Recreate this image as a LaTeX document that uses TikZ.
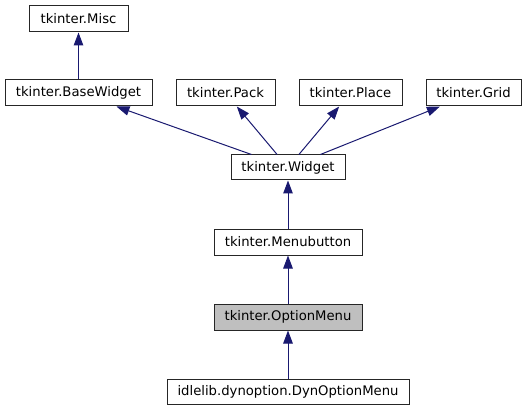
\documentclass[tikz,border=0pt]{standalone}
\usepackage{fontspec}
\setmainfont{DejaVu Sans}
\usetikzlibrary{arrows.meta}
\definecolor{edgeblue}{HTML}{191970}
\definecolor{fillgrey}{HTML}{BFBFBF}
\begin{document}
\begin{tikzpicture}[x=1pt,y=-1pt,
  cls/.style={draw=black!85,line width=1pt,fill=white,inner sep=0pt,minimum height=26pt,
    font=\fontsize{13.2}{15}\selectfont},
  edge/.style={draw=edgeblue,line width=1pt,-{Triangle[length=13pt,width=9.5pt]}}]
\useasboundingbox (0,0) rectangle (526,411);
\node[cls,minimum width=99pt]  (misc)   at (78.5,19)  {tkinter.Misc};
\node[cls,minimum width=147pt] (base)   at (78.5,93)  {tkinter.BaseWidget};
\node[cls,minimum width=99pt]  (pack)   at (225.5,93) {tkinter.Pack};
\node[cls,minimum width=103pt] (place)  at (350.5,93) {tkinter.Place};
\node[cls,minimum width=95pt]  (grid)   at (473.5,93) {tkinter.Grid};
\node[cls,minimum width=114pt,minimum height=25pt] (widget) at (288,167.5) {tkinter.Widget};
\node[cls,minimum width=148pt] (menu)   at (288,242)  {tkinter.Menubutton};
\node[cls,minimum width=148pt,fill=fillgrey] (opt) at (288,317) {tkinter.OptionMenu};
\node[cls,minimum width=242pt,minimum height=25pt] (dyn) at (288,391.5) {idlelib.dynoption.DynOptionMenu};
\draw[edge] (base) -- (misc);
\draw[edge] (widget) -- (base);
\draw[edge] (widget) -- (pack);
\draw[edge] (widget) -- (place);
\draw[edge] (widget) -- (grid);
\draw[edge] (menu) -- (widget);
\draw[edge] (opt) -- (menu);
\draw[edge] (dyn) -- (opt);
\end{tikzpicture}
\end{document}
